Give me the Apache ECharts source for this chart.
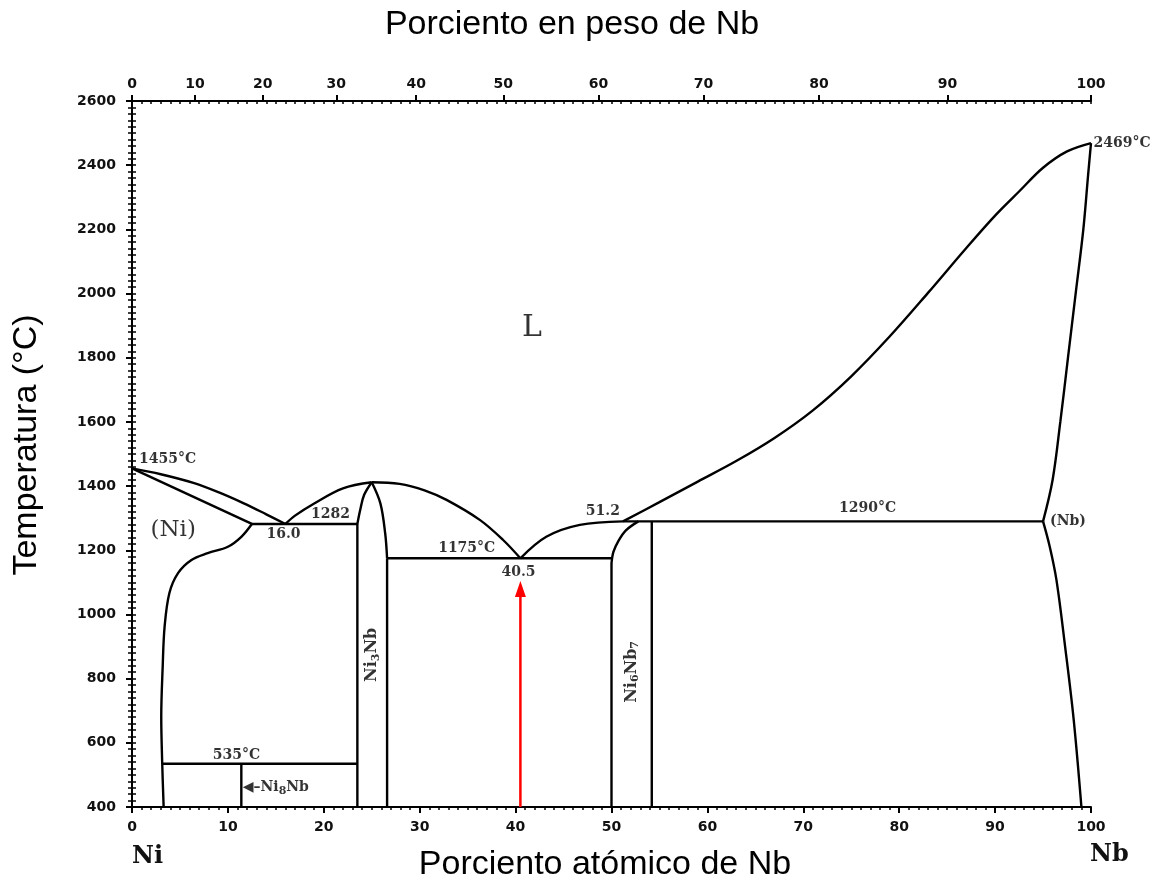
<!DOCTYPE html>
<html>
<head>
<meta charset="utf-8">
<script src="https://cdn.jsdelivr.net/npm/echarts@6/dist/echarts.min.js"></script>
<style>html,body{margin:0;padding:0;background:#fff}#c{width:1172px;height:882px}</style>
</head>
<body>
<div id="c"></div>
<script>
// ---------- data (atomic % Nb, temperature °C) ----------
const weightTicks = [0,10,20,30,40,50,60,70,80,90,100];
const atomicTicks = [0,10,20,30,40,50,60,70,80,90,100];
const tempTicks = [400,600,800,1000,1200,1400,1600,1800,2000,2200,2400,2600];

const niSolidus   = [[0,1455],[12.5,1282]];
const niLiquidus  = [[0,1455],[3,1437],[6.4,1410],[9,1381],[11.6,1347],[14,1312],[16,1282]];
const niSolvus    = [[12.5,1282],[11.4,1242],[10.0,1211],[7.9,1191],[6.2,1170],[4.8,1129],[3.9,1067],[3.4,962],[3.2,837],[3.05,681],[3.15,537],[3.3,400]];
const eut1282     = [[12.5,1282],[23.5,1282]];
const liqNi3NbL   = [[16,1282],[17,1308],[19,1346],[22,1393],[25,1412]];
const liqNi3NbR   = [[25,1412],[27.9,1407],[30.5,1387],[32.8,1357],[36.3,1294],[38.7,1232],[40.5,1175]];
const ni3NbLeftTop  = [[25,1412],[24.2,1372],[23.8,1326],[23.5,1282]];
const ni3NbLeft     = [[23.5,1282],[23.5,400]];
const ni3NbRightTop = [[25,1412],[25.9,1346],[26.4,1253],[26.6,1175]];
const ni3NbRight    = [[26.6,1175],[26.6,400]];
const eut535      = [[3.15,535],[23.5,535]];
const ni8Nb       = [[11.4,400],[11.4,535]];
const eut1175     = [[26.6,1175],[50.0,1175]];
const liqRightLow = [[40.5,1175],[43.2,1242],[46.7,1279],[51.2,1290]];
const liqRightHigh= [[51.2,1290],[55,1350],[59,1414],[63,1478],[67,1550],[71,1636],[75,1742],[79,1866],[83,2002],[87,2142],[90,2243],[92.5,2318],[95,2392],[97.5,2443],[100,2469]];
const ni6Nb7LeftTop = [[52.8,1290],[51.5,1262],[50.7,1228],[50.2,1195],[50.0,1160]];
const ni6Nb7Left    = [[50.0,1160],[50.0,400]];
const ni6Nb7Right   = [[54.2,1290],[54.2,400]];
const peri1290    = [[51.2,1290],[95.0,1290]];
const nbSolidus   = [[95.0,1290],[96.0,1420],[96.8,1600],[97.6,1800],[98.4,2000],[99.2,2200],[99.7,2370],[100,2469]];
const nbSolvus    = [[95.0,1290],[95.7,1211],[96.4,1107],[97.3,900],[98.2,671],[99.0,400]];
const redArrow    = [[40.5,400],[40.5,1092]];

// annotations: [x (at.% Nb), T (°C), text]
const annNumbers = [
  [3.7,1483,'1455°C'],[15.8,1250,'16.0'],[20.7,1313,'1282'],[10.9,562,'535°C'],
  [34.9,1207,'1175°C'],[40.3,1132,'40.5'],[49.1,1320,'51.2'],[76.7,1332,'1290°C']
];
const annL = [[41.7,1893,'L']];
const annNi = [[4.3,1263,'(Ni)']];
const annNb = [[97.6,1291,'(Nb)']];
const annNbMelt = [[100,2469,'2469°C']];
const annRotated = [[25.0,874,'Ni{s|3}Nb'],[52.1,821,'Ni{s|6}Nb{s|7}']];
const annNi8Nb = [[11.5,462,'◀–Ni{s|8}Nb']];

// ---------- chart ----------
const M_NI = 58.693, M_NB = 92.906;
function wtToAt(w){ if (w >= 100) return 100; const nb = w/M_NB, ni = (100-w)/M_NI; return 100*nb/(nb+ni); }
const wtPos = weightTicks.map(wtToAt);

const tickFont = {fontFamily:'DejaVu Sans', fontWeight:'bold', fontSize:14, color:'#111'};
const annFont = {fontFamily:'DejaVu Serif', fontWeight:'bold', fontSize:14, color:'#000'};
const black = {color:'#000', width:2};
const subStyle = {fontFamily:'DejaVu Serif', fontWeight:'bold', fontSize:11, color:'#000', verticalAlign:'bottom', padding:[8,0,0,0]};

function phaseLine(data, smooth){
  return {type:'line', data:data, xAxisIndex:0, yAxisIndex:0, symbol:'none', showSymbol:false,
    smooth: smooth ? 0.35 : false, lineStyle:{color:'#000', width:2.4}, silent:true, z:3};
}
function textSeries(arr, label){
  return {type:'scatter', xAxisIndex:0, yAxisIndex:0, symbolSize:1, clip:false, silent:true, z:5,
    itemStyle:{color:'rgba(0,0,0,0)'},
    data: arr.map(a => ({value:[a[0],a[1]], label:Object.assign({show:true, formatter:a[2]}, label)}))};
}

const chart = echarts.init(document.getElementById('c'), null, {renderer:'canvas'});
const series = [
  phaseLine(niSolidus,false), phaseLine(niLiquidus,true), phaseLine(niSolvus,true),
  phaseLine(eut1282,false), phaseLine(liqNi3NbL,true), phaseLine(liqNi3NbR,true),
  phaseLine(ni3NbLeftTop,true), phaseLine(ni3NbLeft,false), phaseLine(ni3NbRightTop,true), phaseLine(ni3NbRight,false),
  phaseLine(eut535,false), phaseLine(ni8Nb,false), phaseLine(eut1175,false),
  phaseLine(liqRightLow,true), phaseLine(liqRightHigh,true),
  phaseLine(ni6Nb7LeftTop,true), phaseLine(ni6Nb7Left,false), phaseLine(ni6Nb7Right,false),
  phaseLine(peri1290,false), phaseLine(nbSolidus,true), phaseLine(nbSolvus,true),
  {type:'line', data:redArrow, xAxisIndex:0, yAxisIndex:0, silent:true, symbol:'none',
   lineStyle:{color:'#ff0000', width:2.5}, z:4,
   markPoint:{silent:true, symbol:'triangle', symbolSize:[11,16], symbolOffset:[0,4],
     itemStyle:{color:'#ff0000'}, label:{show:false},
     data:[{coord:redArrow[1]}]}},
  textSeries(annNumbers, Object.assign({position:'inside'}, annFont)),
  textSeries(annL, {position:'inside', fontFamily:'DejaVu Serif', fontSize:30, color:'#000'}),
  textSeries(annNi, {position:'inside', fontFamily:'DejaVu Serif', fontSize:23, color:'#000'}),
  textSeries(annNb, Object.assign({position:'inside'}, annFont)),
  textSeries(annNbMelt, Object.assign({position:'right', distance:2}, annFont)),
  textSeries(annRotated, Object.assign({position:'inside', rotate:90}, annFont, {fontSize:16, rich:{s:subStyle}})),
  textSeries(annNi8Nb, Object.assign({position:'right', distance:0}, annFont, {rich:{s:subStyle}}))
];

const plainFmt = v => String(v);

chart.setOption({
  animation:false,
  backgroundColor:'#fff',
  grid:{left:132, right:81, top:101, bottom:75, show:false},
  xAxis:[
    {type:'value', position:'bottom', min:0, max:100, interval:10,
     axisLine:{lineStyle:black}, axisTick:{show:true, length:6, lineStyle:black},
     minorTick:{show:true, splitNumber:10, length:3, lineStyle:{color:'#000', width:1.5}},
     axisLabel:Object.assign({margin:13, formatter:plainFmt}, tickFont), splitLine:{show:false}},
    {type:'value', position:'top', min:0, max:100,
     axisLine:{lineStyle:black},
     axisTick:{show:true, length:6, customValues:wtPos, lineStyle:black},
     axisLabel:Object.assign({margin:10, customValues:wtPos,
       formatter:function(v){ let bi=0, bd=1e9; wtPos.forEach((p,i)=>{const d=Math.abs(p-v); if(d<bd){bd=d;bi=i;}}); return String(weightTicks[bi]); }}, tickFont),
     splitLine:{show:false}},
    {type:'value', position:'top', min:0, max:100, interval:1,
     axisLine:{show:false}, axisLabel:{show:false}, splitLine:{show:false},
     axisTick:{show:true, inside:true, length:3, lineStyle:{color:'#000', width:1.5}}}
  ],
  yAxis:[
    {type:'value', position:'left', min:400, max:2600, interval:200,
     axisLine:{show:true, lineStyle:black}, axisTick:{show:true, length:6, lineStyle:black},
     axisLabel:Object.assign({margin:16, formatter:plainFmt}, tickFont), splitLine:{show:false}},
    {type:'value', position:'left', min:400, max:2600, interval:20,
     axisLine:{show:false}, axisLabel:{show:false}, splitLine:{show:false},
     axisTick:{show:true, inside:true, length:4, lineStyle:{color:'#000', width:1.5}}},
    {type:'value', position:'right', min:400, max:2600, interval:20,
     axisLine:{show:true, lineStyle:black}, axisLabel:{show:false}, splitLine:{show:false},
     axisTick:{show:true, inside:true, length:4, lineStyle:{color:'#000', width:1.5}}}
  ],
  graphic:[
    {type:'text', x:572, y:8, style:{text:'Porciento en peso de Nb', align:'center', font:'34px "Liberation Sans", Arial, sans-serif', fill:'#000'}},
    {type:'text', x:605, y:848, style:{text:'Porciento atómico de Nb', align:'center', font:'34px "Liberation Sans", Arial, sans-serif', fill:'#000'}},
    {type:'text', x:10, y:445, rotation:Math.PI/2, style:{text:'Temperatura (°C)', align:'center', verticalAlign:'top', font:'34px "Liberation Sans", Arial, sans-serif', fill:'#000'}},
    {type:'text', x:132, y:845, style:{text:'Ni', font:'bold 24px "DejaVu Serif", serif', fill:'#111'}},
    {type:'text', x:1090, y:843, style:{text:'Nb', font:'bold 24px "DejaVu Serif", serif', fill:'#111'}}
  ],
  series:series
});
</script>
</body>
</html>
